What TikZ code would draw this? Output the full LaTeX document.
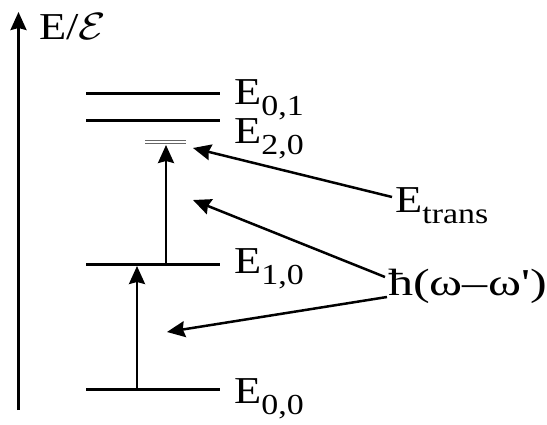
\RequirePackage{fix-cm}
\documentclass[tikz,border=0pt]{standalone}
\usepackage{graphicx}
\usepackage{fontspec}
\setmainfont{Liberation Serif}
\newfontfamily\rawserif{Liberation Serif}
\usetikzlibrary{arrows.meta}
\newcommand{\lvsub}[1]{\raisebox{-0.3em}{\fontsize{29}{29}\selectfont #1}}
\newcommand{\widetxt}[2][1.17]{\scalebox{#1}[1]{#2}}
\tikzset{
  level/.style={line width=3pt},
  thinlevel/.style={line width=1.2pt, black!60},
  trans/.style={line width=2.5pt, -{Stealth[length=18pt,width=16pt,inset=2pt]}},
  lbl/.style={anchor=base west, inner sep=0pt, font=\fontsize{38}{38}\selectfont},
}
\begin{document}
\begin{tikzpicture}[x=1pt,y=-1pt]
\useasboundingbox (0,0) rectangle (547,424);
% axis
\coordinate (ax0) at (18.5,410);
\coordinate (ax1) at (18.5,12);
\draw[trans] (ax0) -- (ax1);
\node[lbl] (axl) at (39,39) {\widetxt{E/$\mathcal{E}$}};
% levels
\coordinate (l01a) at (86,93);  \coordinate (l01b) at (220,93);
\coordinate (l2a) at (86,120);  \coordinate (l2b) at (220,120);
\coordinate (l20a) at (145,140.5); \coordinate (l20b) at (186,140.5);
\coordinate (l20c) at (145,143.5); \coordinate (l20d) at (186,143.5);
\coordinate (l10a) at (86,264); \coordinate (l10b) at (220,264);
\coordinate (l00a) at (86,389); \coordinate (l00b) at (220,389);
\draw[level] (l01a) -- (l01b);
\draw[level] (l2a) -- (l2b);
\draw[thinlevel] (l20a) -- (l20b);
\draw[thinlevel] (l20c) -- (l20d);
\draw[level] (l10a) -- (l10b);
\draw[level] (l00a) -- (l00b);
% labels
\node[lbl] (e01) at (234,104) {\widetxt{E\lvsub{0,1}}};
\node[lbl] (e20) at (234,143) {\widetxt{E\lvsub{2,0}}};
\node[lbl] (e10) at (234,273) {\widetxt{E\lvsub{1,0}}};
\node[lbl] (e00) at (234,403) {\widetxt{E\lvsub{0,0}}};
\node[lbl] (etr) at (395,212) {\widetxt{E\lvsub{trans}}};
\node[lbl] (hw) at (388,295) {\widetxt[1.32]{ħ(ω–ω{\rawserif '})}};
% transitions
\coordinate (t1s) at (137,389); \coordinate (t1e) at (137,266);
\coordinate (t2s) at (166,264); \coordinate (t2e) at (166,145);
\draw[trans] (t1s) -- (t1e);
\draw[trans] (t2s) -- (t2e);
% pointers
\coordinate (p1s) at (392,197); \coordinate (p1e) at (193,148);
\coordinate (p2s) at (385,277); \coordinate (p2e) at (193,200);
\coordinate (p3s) at (387,297); \coordinate (p3e) at (167,332);
\draw[trans] (p1s) -- (p1e);
\draw[trans] (p2s) -- (p2e);
\draw[trans] (p3s) -- (p3e);
\end{tikzpicture}
\end{document}
